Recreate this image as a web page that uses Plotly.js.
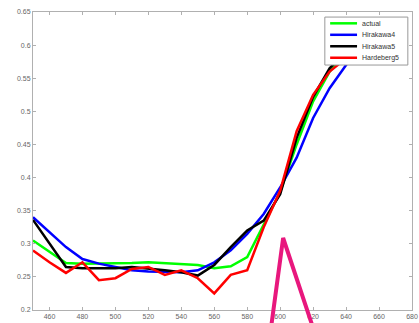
<!DOCTYPE html>
<html>
<head>
<meta charset="utf-8">
<script src="https://cdn.plot.ly/plotly-3.0.1.min.js"></script>
<style>html,body{margin:0;padding:0;background:#fff;}#chart{width:419px;height:323px;}</style>
</head>
<body>
<div id="chart"></div>
<script>
var wavelength = [450,460,470,480,490,500,510,520,530,540,550,560,570,580,590,600,610,620,630,640,650];
var actual     = [0.305,0.288,0.271,0.270,0.270,0.270,0.271,0.272,0.271,0.270,0.268,0.263,0.266,0.280,0.330,0.378,0.450,0.515,0.560,0.590,0.610];
var hirakawa4  = [0.340,0.318,0.295,0.277,0.270,0.265,0.260,0.258,0.257,0.257,0.260,0.272,0.290,0.315,0.345,0.385,0.430,0.490,0.535,0.570,0.600];
var hirakawa5  = [0.336,0.300,0.265,0.263,0.263,0.263,0.265,0.263,0.260,0.257,0.252,0.268,0.295,0.320,0.335,0.375,0.460,0.522,0.565,0.590,0.610];
var hardeberg5 = [0.290,0.272,0.256,0.272,0.245,0.248,0.262,0.265,0.253,0.260,0.248,0.225,0.253,0.260,0.325,0.380,0.470,0.525,0.560,0.580,0.600];
var seriesNames = ["actual","Hirakawa4","Hirakawa5","Hardeberg5"];
var seriesColors = ["#00ff00","#0000ff","#000000","#ff0000"];
var yTicks = [0.2,0.25,0.3,0.35,0.4,0.45,0.5,0.55,0.6,0.65];
var xTicks = [460,480,500,520,540,560,580,600,620,640,660,680];

var ys = [actual, hirakawa4, hirakawa5, hardeberg5];
var traces = ys.map(function(y,i){
  return {x: wavelength, y: y, type:'scatter', mode:'lines', name: seriesNames[i],
          line:{color: seriesColors[i], width:2.5}};
});

var axisCommon = {showgrid:false, zeroline:false, showline:true, linecolor:'#b0b0b0', linewidth:1,
  mirror:'ticks', ticks:'inside', ticklen:3, tickcolor:'#b0b0b0',
  tickfont:{family:'Liberation Sans, Arial, sans-serif', size:7, color:'#666'}};

// compact legend box (paper coordinates)
var lgX0 = 0.770, lgX1 = 0.989, lgY0 = 0.822, lgY1 = 0.983;
var shapes = [{type:'rect', xref:'paper', yref:'paper', layer:'above',
               x0:lgX0, x1:lgX1, y0:lgY0, y1:lgY1, fillcolor:'#fff', line:{color:'#999', width:1}}];
var annotations = [];
seriesNames.forEach(function(n,i){
  var yy = lgY1 - 0.021 - i*0.0385;
  shapes.push({type:'line', xref:'paper', yref:'paper', layer:'above',
               x0:0.784, x1:0.855, y0:yy, y1:yy, line:{color:seriesColors[i], width:2.5}});
  annotations.push({xref:'paper', yref:'paper', x:0.862, y:yy, xanchor:'left', yanchor:'middle',
               text:n, showarrow:false, font:{family:'Liberation Sans, Arial, sans-serif', size:7, color:'#333'}});
});
shapes.push({type:'path', xref:'paper', yref:'paper', layer:'above',
           path:'M 0.628 -0.06 L 0.660 0.2416 L 0.739 -0.06',
           line:{color:'#e8177d', width:4}});

var layout = {
  width:419, height:323,
  margin:{l:33, r:7, t:12, b:13},
  paper_bgcolor:'#fff', plot_bgcolor:'#fff',
  showlegend:false,
  xaxis: Object.assign({}, axisCommon, {range:[450,680], tickvals:xTicks, ticktext:xTicks.map(String)}),
  yaxis: Object.assign({}, axisCommon, {range:[0.2,0.65], tickvals:yTicks, ticktext:yTicks.map(String)}),
  shapes: shapes,
  annotations: annotations
};

Plotly.newPlot('chart', traces, layout, {displayModeBar:false, staticPlot:true});
</script>
</body>
</html>
